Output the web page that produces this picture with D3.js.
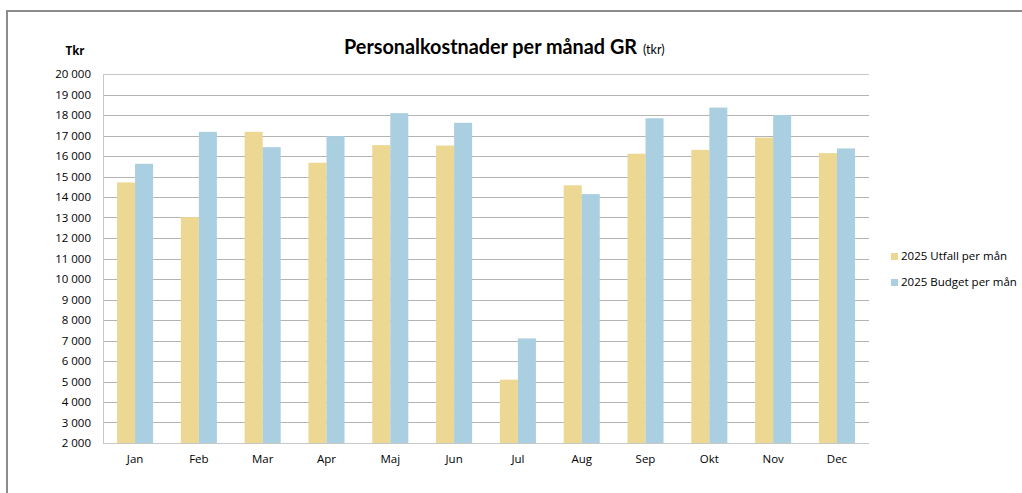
<!DOCTYPE html>
<html>
<head>
<meta charset="utf-8">
<script src="https://cdn.jsdelivr.net/npm/d3@7"></script>
<style>
  body { margin: 0; background: #fff; }
  text { font-family: "Open Sans", "Noto Sans", sans-serif; fill: #000; }
</style>
</head>
<body>
<script>
var months = ["Jan","Feb","Mar","Apr","Maj","Jun","Jul","Aug","Sep","Okt","Nov","Dec"];
var utfall = [14710, 13020, 17180, 15670, 16530, 16510, 5090, 14570, 16110, 16300, 16900, 16140];
var budget = [15620, 17180, 16430, 16970, 18090, 17620, 7100, 14140, 17840, 18360, 18000, 16370];
var seriesNames = ["2025 Utfall per mån", "2025 Budget per mån"];
var yTicks = d3.range(2000, 20001, 1000);

var width = 1022, height = 493;
var plotLeft = 103, plotRight = 869, plotTop = 74, plotBottom = 443;
var colors = ["#ecd793", "#aacfe0"];

var svg = d3.select("body").append("svg")
  .attr("width", width)
  .attr("height", height);

// frame
svg.append("path")
  .attr("d", "M7,493 V11 H1022")
  .attr("fill", "none")
  .attr("stroke", "#8c8c8c")
  .attr("stroke-width", 2);

var x = d3.scaleBand()
  .domain(months)
  .range([plotLeft, plotRight])
  .paddingInner(0.435)
  .paddingOuter(0.22);

var xs = d3.scaleBand()
  .domain([0, 1])
  .range([0, x.bandwidth()]);

var y = d3.scaleLinear()
  .domain([2000, 20000])
  .range([plotBottom, plotTop]);

// gridlines
svg.append("g")
  .selectAll("line")
  .data(yTicks)
  .enter()
  .append("line")
  .attr("x1", plotLeft)
  .attr("x2", plotRight)
  .attr("y1", function(d) { return Math.round(y(d)) + 0.5; })
  .attr("y2", function(d) { return Math.round(y(d)) + 0.5; })
  .attr("stroke", function(d) { return d === 2000 || d === 20000 ? "#c8c8c8" : "#b4b4b4"; })
  .attr("stroke-width", 1);

svg.append("line")
  .attr("x1", plotLeft + 0.5).attr("x2", plotLeft + 0.5)
  .attr("y1", plotTop).attr("y2", plotBottom)
  .attr("stroke", "#c8c8c8");

// y labels
var yAxis = d3.axisLeft(y)
  .tickValues(yTicks)
  .tickSize(0)
  .tickPadding(12)
  .tickFormat(function(d) { return d3.format(",")(d).replace(",", " "); });

var ya = svg.append("g")
  .attr("transform", "translate(" + plotLeft + ",0)")
  .call(yAxis);
ya.select(".domain").remove();
ya.selectAll("text").attr("font-size", 11.5).attr("fill", "#000")
  .style("font-family", "'Open Sans', sans-serif");

// x labels
var xAxis = d3.axisBottom(x).tickSize(0).tickPadding(12);
var xa = svg.append("g")
  .attr("transform", "translate(0," + plotBottom + ")")
  .call(xAxis);
xa.select(".domain").remove();
xa.selectAll("text").attr("font-size", 11.5).attr("fill", "#000");

// bars
var data = months.map(function(m, i) { return {m: m, v: [utfall[i], budget[i]]}; });
var groups = svg.append("g")
  .selectAll("g")
  .data(data)
  .enter()
  .append("g")
  .attr("transform", function(d) { return "translate(" + x(d.m) + ",0)"; });

groups.selectAll("rect")
  .data(function(d) { return d.v; })
  .enter()
  .append("rect")
  .attr("x", function(d, i) { return xs(i); })
  .attr("width", xs.bandwidth())
  .attr("y", function(d) { return y(d); })
  .attr("height", function(d) { return plotBottom - y(d); })
  .attr("fill", function(d, i) { return colors[i]; });

// title
svg.append("text")
  .attr("x", 344)
  .attr("y", 54)
  .style("font-family", "Lato, sans-serif")
  .attr("font-size", 20)
  .attr("font-weight", "bold")
  .attr("textLength", 293)
  .attr("lengthAdjust", "spacingAndGlyphs")
  .text("Personalkostnader per månad GR");
svg.append("text")
  .attr("x", 643)
  .attr("y", 54)
  .style("font-family", "Lato, sans-serif")
  .attr("font-size", 12.5)
  .text("(tkr)");

svg.append("text")
  .attr("x", 75)
  .attr("y", 55)
  .attr("text-anchor", "middle")
  .attr("font-size", 11.5)
  .attr("font-weight", "bold")
  .text("Tkr");

// legend
var legend = svg.append("g")
  .selectAll("g")
  .data(seriesNames)
  .enter()
  .append("g")
  .attr("transform", function(d, i) { return "translate(891," + (253 + i * 26) + ")"; });
legend.append("rect")
  .attr("width", 7)
  .attr("height", 7)
  .attr("fill", function(d, i) { return colors[i]; });
legend.append("text")
  .attr("x", 10)
  .attr("y", 7)
  .attr("font-size", 11.5)
  .text(function(d) { return d; });
</script>
</body>
</html>
